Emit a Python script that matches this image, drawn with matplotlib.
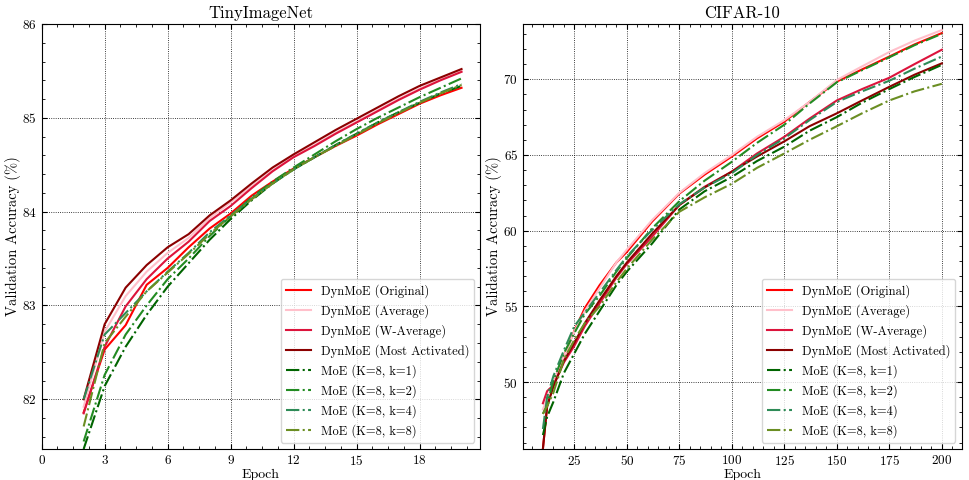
import numpy as np
import matplotlib
matplotlib.use("Agg")
import matplotlib.pyplot as plt
from matplotlib.ticker import MultipleLocator, AutoMinorLocator

plt.rcParams["font.family"] = "serif"
plt.rcParams["font.serif"] = ["cmr10"]
plt.rcParams["mathtext.fontset"] = "cm"
plt.rcParams["axes.formatter.use_mathtext"] = True
plt.rcParams["axes.unicode_minus"] = False

labels = ["DynMoE (Original)", "DynMoE (Average)", "DynMoE (W-Average)",
          "DynMoE (Most Activated)", "MoE (K=8, k=1)", "MoE (K=8, k=2)",
          "MoE (K=8, k=4)", "MoE (K=8, k=8)"]
colors = ["red", "pink", "crimson", "darkred",
          "darkgreen", "forestgreen", "seagreen", "olivedrab"]
styles = ["-", "-", "-", "-", "-.", "-.", "-.", "-."]

# TinyImageNet, epochs 2..20
tin_epochs = np.arange(2, 21)
tin_orig = [81.86, 82.53, 82.79, 83.22, 83.40, 83.62, 83.82, 83.98, 84.17, 84.32,
            84.46, 84.58, 84.70, 84.81, 84.93, 85.04, 85.15, 85.24, 85.32]
tin_avg = [81.92, 82.72, 83.10, 83.36, 83.56, 83.72, 83.93, 84.10, 84.27, 84.44,
           84.59, 84.71, 84.84, 84.96, 85.08, 85.20, 85.31, 85.41, 85.50]
tin_wavg = [81.85, 82.56, 82.99, 83.28, 83.50, 83.68, 83.90, 84.06, 84.25, 84.43,
            84.58, 84.70, 84.83, 84.95, 85.07, 85.19, 85.30, 85.40, 85.49]
tin_most = [82.00, 82.80, 83.19, 83.43, 83.62, 83.76, 83.96, 84.12, 84.30, 84.47,
            84.61, 84.74, 84.87, 84.99, 85.11, 85.23, 85.34, 85.43, 85.52]
tin_k1 = [81.47, 82.14, 82.56, 82.90, 83.20, 83.45, 83.70, 83.92, 84.12, 84.30,
          84.45, 84.58, 84.71, 84.83, 84.95, 85.06, 85.16, 85.26, 85.34]
tin_k2 = [81.55, 82.26, 82.69, 83.00, 83.28, 83.50, 83.74, 83.95, 84.15, 84.32,
          84.47, 84.61, 84.75, 84.88, 85.00, 85.11, 85.22, 85.32, 85.42]
tin_k4 = [82.00, 82.69, 82.92, 83.15, 83.36, 83.56, 83.78, 83.96, 84.14, 84.30,
          84.45, 84.58, 84.71, 84.83, 84.95, 85.06, 85.17, 85.27, 85.36]
tin_k8 = [81.71, 82.60, 82.88, 83.15, 83.35, 83.55, 83.76, 83.95, 84.13, 84.30,
          84.45, 84.58, 84.70, 84.82, 84.94, 85.05, 85.16, 85.26, 85.35]

# CIFAR-10
cif_epochs = [10, 12, 15, 20, 25, 30, 37, 45, 50, 62, 75, 87, 100, 112, 125,
              137, 150, 162, 175, 187, 200]
cif_orig = [45.6, 48.4, 49.9, 51.7, 53.4, 54.9, 56.4, 57.9, 58.6, 60.6, 62.45,
            63.7, 64.9, 66.1, 67.2, 68.5, 69.85, 70.65, 71.5, 72.3, 73.05]
cif_avg = [48.2, 48.9, 49.9, 51.7, 53.35, 54.7, 56.2, 57.9, 58.75, 60.7, 62.5,
           63.8, 65.0, 66.2, 67.3, 68.5, 69.95, 70.85, 71.8, 72.55, 73.25]
cif_wavg = [48.6, 49.4, 49.8, 51.3, 52.4, 53.7, 55.2, 56.9, 57.8, 59.6, 61.7,
            62.9, 63.9, 65.1, 66.2, 67.4, 68.6, 69.35, 70.1, 71.0, 71.95]
cif_most = [45.6, 48.4, 49.7, 51.4, 52.6, 53.9, 55.4, 57.0, 57.9, 59.8, 61.7,
            62.85, 63.9, 64.9, 65.9, 66.9, 67.75, 68.6, 69.5, 70.3, 71.05]
cif_k1 = [46.5, 47.7, 48.7, 50.6, 51.9, 53.2, 54.7, 56.4, 57.3, 59.15, 61.4,
          62.6, 63.55, 64.6, 65.55, 66.6, 67.5, 68.45, 69.35, 70.15, 70.95]
cif_k2 = [47.9, 48.5, 50.1, 51.9, 53.25, 54.5, 55.7, 57.3, 58.2, 60.15, 61.95,
          63.3, 64.55, 65.8, 67.0, 68.4, 69.8, 70.6, 71.45, 72.25, 73.0]
cif_k4 = [46.9, 49.0, 50.4, 52.1, 53.7, 54.6, 55.9, 57.4, 58.3, 60.05, 61.75,
          62.85, 63.8, 65.0, 66.1, 67.3, 68.5, 69.2, 69.9, 70.7, 71.5]
cif_k8 = [47.9, 48.4, 49.3, 51.5, 52.8, 53.9, 55.0, 56.6, 57.5, 59.4, 61.25,
          62.2, 63.1, 64.15, 65.1, 66.0, 66.9, 67.75, 68.6, 69.2, 69.7]

tin_series = [tin_orig, tin_avg, tin_wavg, tin_most, tin_k1, tin_k2, tin_k4, tin_k8]
cif_series = [cif_orig, cif_avg, cif_wavg, cif_most, cif_k1, cif_k2, cif_k4, cif_k8]


def style_axis(ax):
    ax.tick_params(which="both", direction="in", top=True, right=True, labelsize=9.5)
    ax.tick_params(which="major", length=3.5)
    ax.tick_params(which="minor", length=2)
    ax.xaxis.set_minor_locator(AutoMinorLocator())
    ax.yaxis.set_minor_locator(AutoMinorLocator())
    ax.grid(True, which="major", color="black", linestyle=":", linewidth=0.6)
    ax.set_xlabel("Epoch", fontsize=10, labelpad=1)
    ax.set_ylabel("Validation Accuracy (%)", fontsize=10.5, labelpad=1)
    ax.legend(loc="lower right", fontsize=9, fancybox=True)


fig, (ax1, ax2) = plt.subplots(1, 2, figsize=(9.69, 4.8), dpi=100)
fig.subplots_adjust(left=0.043, right=0.9925, top=0.95, bottom=0.0646, wspace=0.097)

for ys, lab, c, ls in zip(tin_series, labels, colors, styles):
    ax1.plot(tin_epochs, ys, ls, color=c, lw=1.5, label=lab)
ax1.set_xlim(left=0)
ax1.set_ylim(81.47, 86.0)
ax1.xaxis.set_major_locator(MultipleLocator(3))
ax1.yaxis.set_major_locator(MultipleLocator(1))
ax1.set_title("TinyImageNet", fontsize=12, pad=4)
style_axis(ax1)

for ys, lab, c, ls in zip(cif_series, labels, colors, styles):
    ax2.plot(cif_epochs, ys, ls, color=c, lw=1.5, label=lab)
ax2.set_ylim(45.58, 73.65)
ax2.xaxis.set_major_locator(MultipleLocator(25))
ax2.yaxis.set_major_locator(MultipleLocator(5))
ax2.set_title("CIFAR-10", fontsize=12, pad=4)
style_axis(ax2)

fig.savefig("out.png", dpi=100)
